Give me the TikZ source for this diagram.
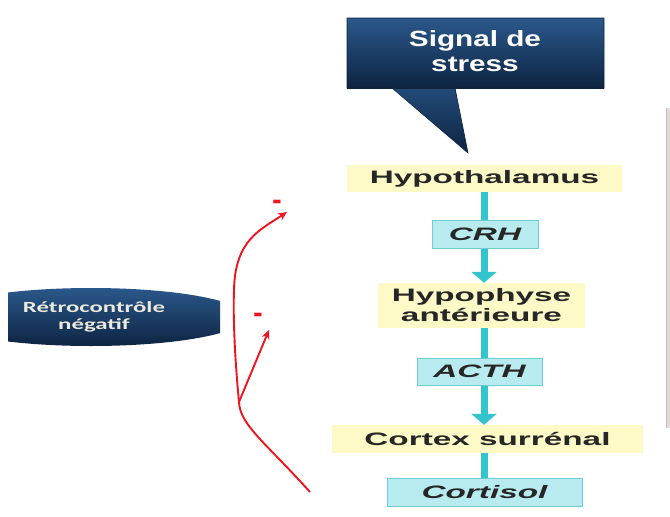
\documentclass[tikz,border=0pt]{standalone}
\usepackage{fontspec}
\usepackage{tikz}
\usetikzlibrary{arrows.meta, positioning}
\newfontfamily\flowfont[FakeStretch=1.85]{Liberation Sans}
\newfontfamily\bullefont[FakeStretch=1.35]{Liberation Sans}
\newfontfamily\retrofont[FakeStretch=1.6]{Carlito}
\definecolor{jaune}{RGB}{253,250,200}
\definecolor{cyanfond}{RGB}{184,235,239}
\definecolor{cyanbord}{RGB}{110,204,212}
\definecolor{cyanfleche}{RGB}{52,196,205}
\definecolor{bleuhaut}{RGB}{42,88,138}
\definecolor{bleubas}{RGB}{14,36,66}
\definecolor{rouge}{RGB}{240,20,30}
\definecolor{bande}{RGB}{222,218,205}
\tikzset{
  organe/.style={fill=jaune, inner sep=0pt, align=center, text=black!85,
    font=\flowfont\bfseries\fontsize{18}{20}\selectfont},
  hormone/.style={fill=cyanfond, draw=cyanbord, line width=1pt, inner sep=0pt, text=black!85,
    font=\flowfont\bfseries\itshape\fontsize{18}{20}\selectfont},
  lien/.style={cyanfleche, line width=7pt},
  fleche/.style={lien, -{Triangle[width=25pt,length=11pt]}},
  retro/.style={rouge, line width=1.9pt, -{Stealth[length=9pt,width=8pt]}},
  moins/.style={rouge, inner sep=0pt, font=\bfseries\fontsize{24}{24}\selectfont}
}

\begin{document}
\begin{tikzpicture}[x=1pt,y=-1pt]
\useasboundingbox (0,0) rectangle (670,517);

% bulle : signal de stress
\coordinate (pointe) at (468,153);
\shade[top color=bleuhaut!75!bleubas, bottom color=bleubas] (392,88) -- (455,88) -- (pointe) -- cycle;
\shade[top color=bleuhaut, bottom color=bleubas] (347,18) rectangle (604,88);
\draw[bleubas, line width=0.6pt] (347,18) -- (604,18) -- (604,88) -- (455,88) -- (pointe) -- (392,88) -- (347,88) -- cycle;
\node[white, align=center, font=\bullefont\bfseries\fontsize{22}{25}\selectfont] (signal) at (475,51) {Signal de\\stress};

% axe hypothalamo-hypophysaire
\node[organe, minimum width=275pt, minimum height=27pt] (hypothal) at (484.5,178.5) {Hypothalamus};
\node[hormone, minimum width=106pt, minimum height=28pt] (crh) at (485,234) {CRH};
\node[organe, minimum width=207pt, minimum height=45pt] (hypophyse) at (481.5,305.5) {Hypophyse\\antérieure};
\node[hormone, minimum width=125pt, minimum height=27pt] (acth) at (479.5,371.5) {ACTH};
\node[organe, minimum width=311pt, minimum height=28pt] (cortex) at (487.5,439) {Cortex surrénal};
\node[hormone, minimum width=195pt, minimum height=28pt] (cortisol) at (484.5,492) {Cortisol};

\draw[lien] (crh.north -| 484,0) -- (hypothal.south -| 484,0);
\draw[fleche] (crh.south -| 484,0) -- (hypophyse.north -| 484,0);
\draw[lien] (hypophyse.south -| 484,0) -- (acth.north -| 484,0);
\draw[fleche] (acth.south -| 484,0) -- (cortex.north -| 484,0);
\draw[lien] (cortex.south -| 484,0) -- (cortisol.north -| 484,0);

% retrocontrole negatif
\begin{scope}
\clip (8,280) rectangle (220,350);
\shade[top color=bleuhaut, bottom color=bleubas] (91,317) ellipse (155 and 29);
\end{scope}
\node[text={rgb,255:red,236;green,234;blue,222}, align=center, font=\retrofont\bfseries\fontsize{15.5}{17}\selectfont] (retro) at (94,317) {Rétrocontrôle\\négatif};

\coordinate (depart) at (310,492);
\coordinate (coude) at (239,402);
\coordinate (pointe1) at (287,212);
\coordinate (pointe2) at (269,330);
\node[moins] (moins1) at (278,205) {\scalebox{1}[1.6]{-}};
\node[moins] (moins2) at (259,318) {\scalebox{1}[1.6]{-}};
\draw[retro] (depart) .. controls (265,442) and (240,425) .. (coude)
  .. controls (235,360) and (233,320) .. (234,290)
  .. controls (235,240) and (260,230) .. (pointe1);
\draw[retro] (coude) -- (pointe2);

% bord de l'image voisine
\fill[bande] (666,108) rectangle (670,428);
\draw[black!25, line width=0.6pt] (666.3,108) -- (666.3,428);
\end{tikzpicture}
\end{document}
